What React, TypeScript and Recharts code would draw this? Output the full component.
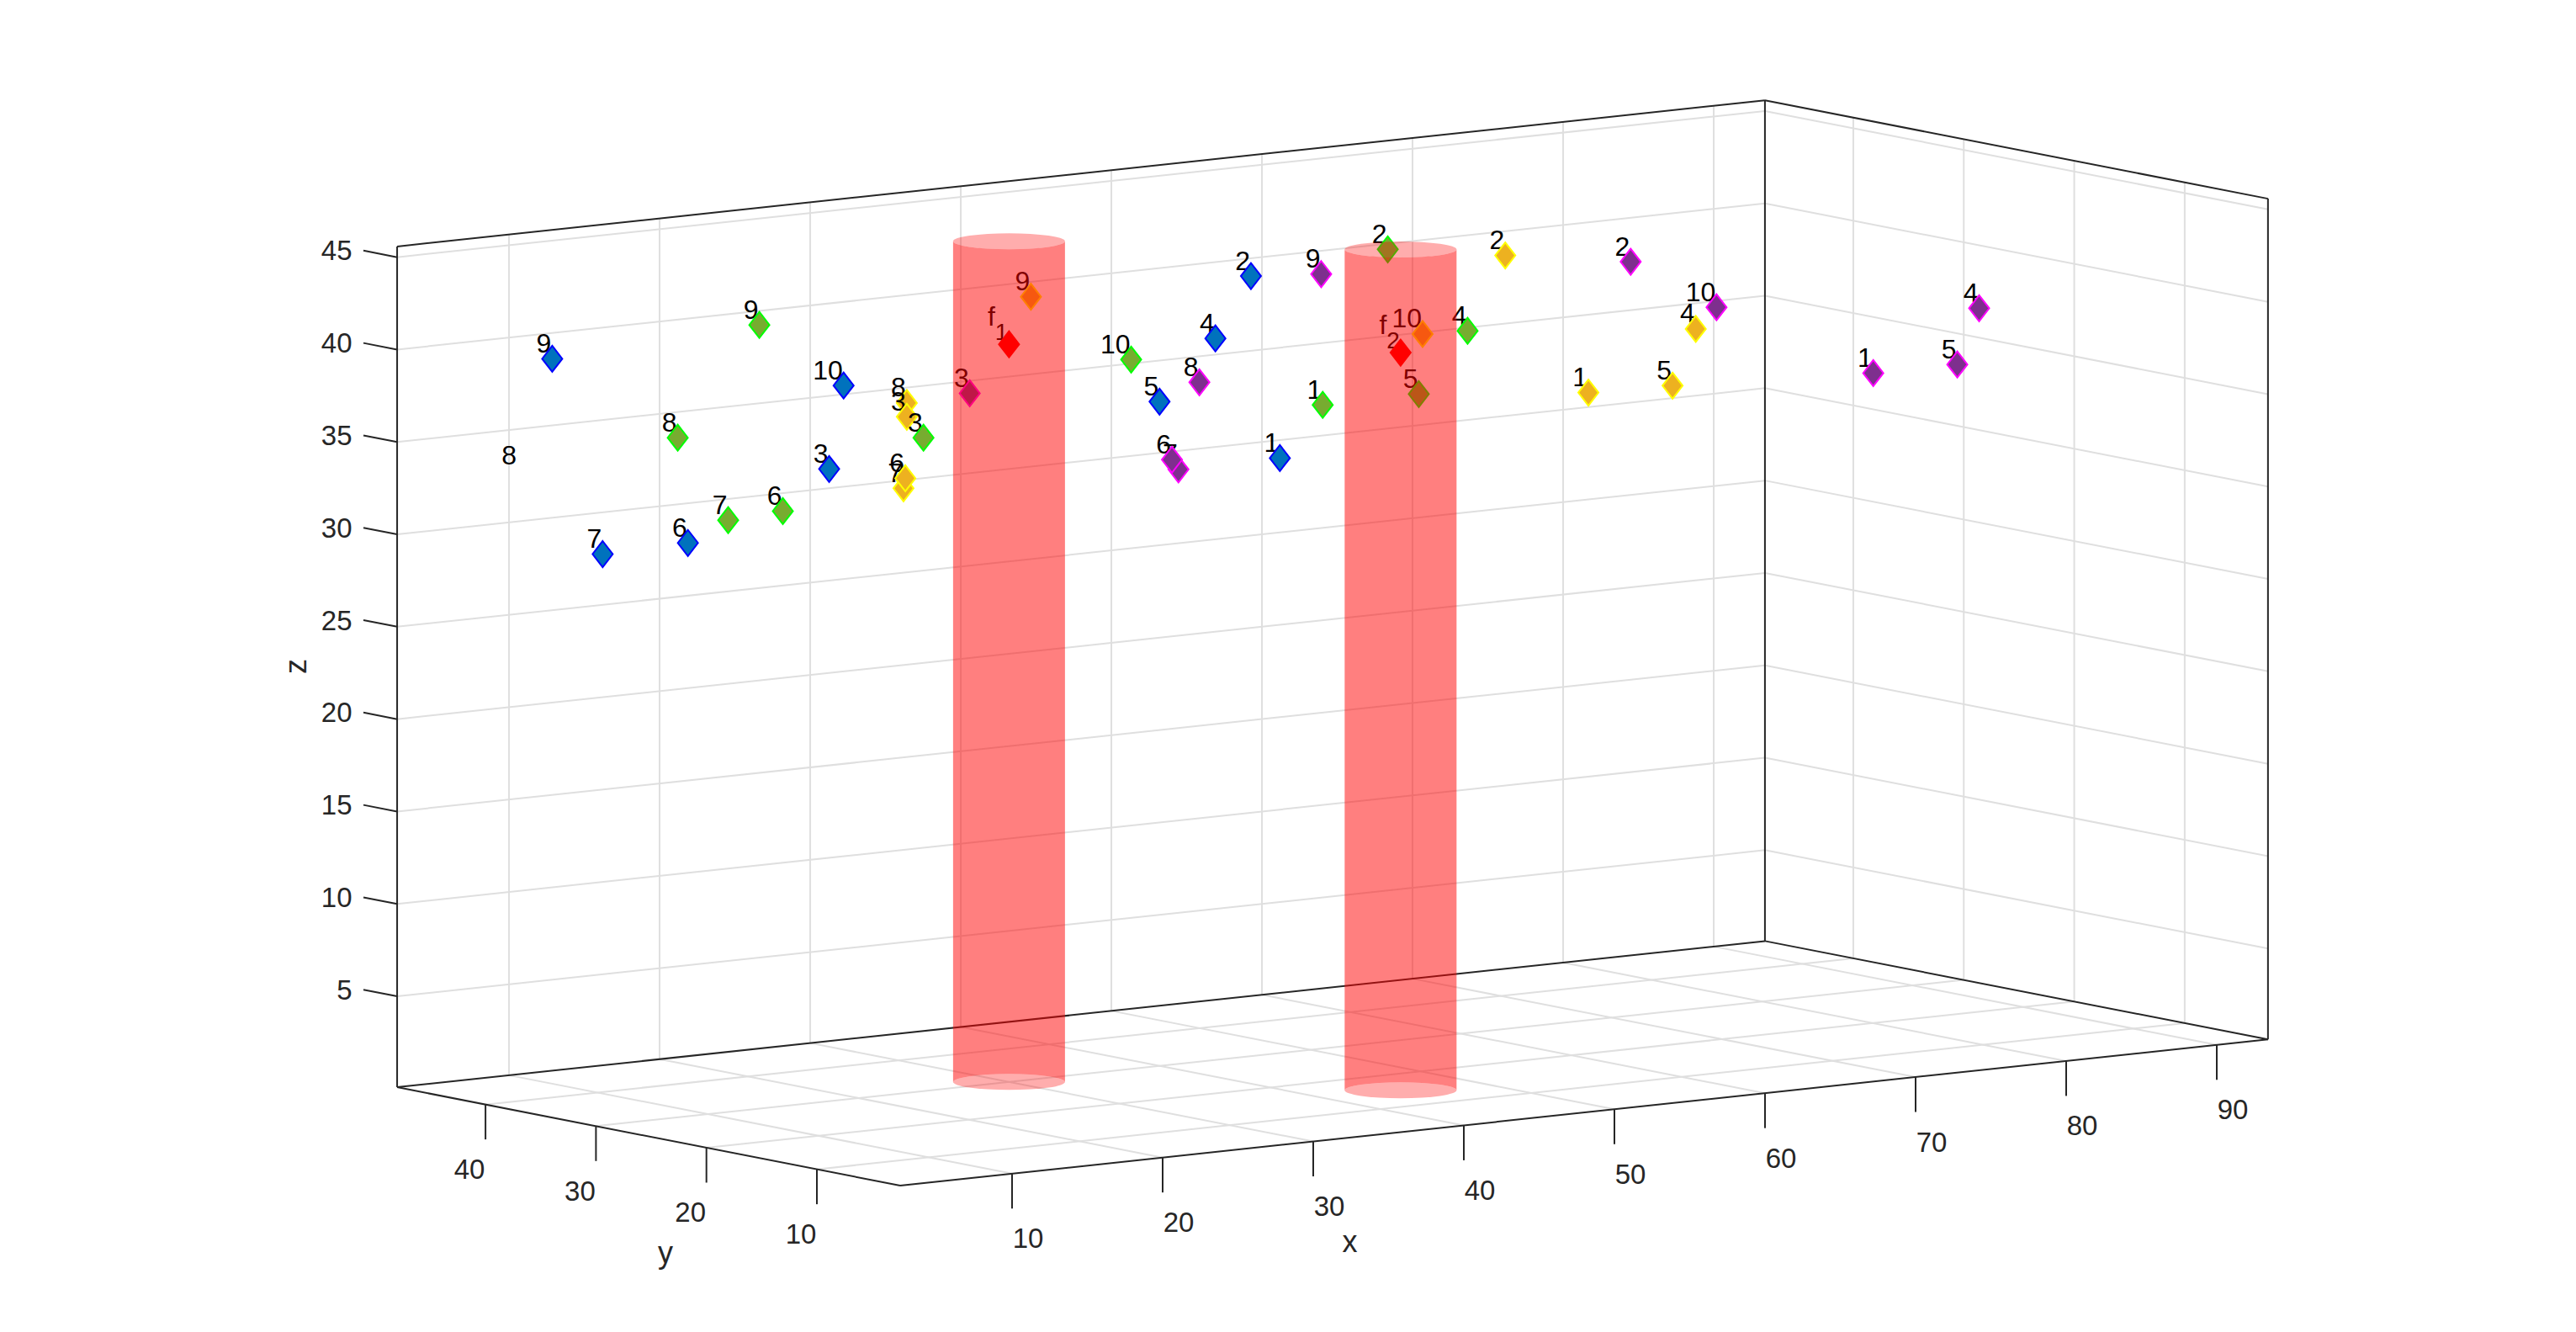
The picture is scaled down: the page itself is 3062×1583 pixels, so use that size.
import { ScatterChart, Scatter, XAxis, YAxis, ReferenceLine } from 'recharts'

const WIDTH = 3062
const HEIGHT = 1583
const FONT = '"Liberation Sans", Arial, sans-serif'

const xLimits = [2.57, 93.4]
const yLimits = [2.46, 48]
const zLimits = [0.08, 45.58]

const xTicks = [10, 20, 30, 40, 50, 60, 70, 80, 90]
const yTicks = [10, 20, 30, 40]
const zTicks = [5, 10, 15, 20, 25, 30, 35, 40, 45]

const pointLabels = ['1', '2', '3', '4', '5', '6', '7', '8', '9', '10']

const blueX = [55.32, 53.4, 25.39, 51.04, 47.33, 16.01, 10.35, 4.69, 7.0, 26.35]
const blueY = [40, 40, 40, 40, 40, 40, 40, 40, 40, 40]
const blueZ = [30.47, 40.49, 32.49, 37.32, 34.22, 29.3, 29.19, 34.17, 40.05, 36.92]

const greenX = [50.83, 55.15, 24.32, 60.45, 57.21, 14.98, 11.35, 8.0, 13.42, 38.11]
const greenY = [30, 30, 30, 30, 30, 30, 30, 30, 30, 30]
const greenZ = [34.91, 42.95, 35.44, 38.08, 34.94, 32.28, 32.11, 36.86, 42.49, 38.47]

const yellowX = [57.47, 51.95, 12.21, 64.6, 63.06, 12.11, 11.99, 12.21, 20.45, 46.46]
const yellowY = [15, 15, 15, 15, 15, 15, 15, 15, 15, 15]
const yellowZ = [36.75, 44.65, 39.38, 39.57, 36.64, 36.06, 35.53, 40.13, 45.16, 40.88]

const purpleX = [72.72, 56.61, 12.72, 79.75, 78.3, 26.15, 26.58, 27.97, 36.06, 62.31]
const purpleY = [10, 10, 10, 10, 10, 10, 10, 10, 10, 10]
const purpleZ = [37.06, 44.49, 41.19, 39.96, 37.04, 36.43, 35.87, 40.46, 45.61, 41.53]

const focusX = [30, 45]
const focusY = [30, 15]
const focusZ = [40, 40]

// blue point 8 only has its label in the picture
const labelOnly = ['8']

const xLabels = xTicks.map(String)
const yLabels = yTicks.map(String)
const zLabels = zTicks.map(String)

// orthographic view read from the box corners
const project = (x: number, y: number, z: number) => {
  const u = x - xLimits[0]
  const v = y - yLimits[0]
  const w = z - zLimits[0]
  return {
    sx: 1070 + u * 17.9 - v * 13.13,
    sy: 1409 - u * 1.9125 - v * 2.567 - w * 21.96,
  }
}

// the figure paints point 10 first and point 1 last in every series
const toPoints = (xs: number[], ys: number[], zs: number[], labels: string[]) =>
  xs.map((x, i) => ({ ...project(x, ys[i], zs[i]), label: labels[i] })).reverse()

const bluePoints = toPoints(blueX, blueY, blueZ, pointLabels)
const greenPoints = toPoints(greenX, greenY, greenZ, pointLabels)
const yellowPoints = toPoints(yellowX, yellowY, yellowZ, pointLabels)
const purplePoints = toPoints(purpleX, purpleY, purpleZ, pointLabels)
const focusPoints = toPoints(focusX, focusY, focusZ, ['1', '2'])

const [x0, x1] = xLimits
const [y0, y1] = yLimits
const [z0, z1] = zLimits

type P3 = [number, number, number]
const seg = (a: P3, b: P3) => {
  const pa = project(...a)
  const pb = project(...b)
  return [
    { x: pa.sx, y: pa.sy },
    { x: pb.sx, y: pb.sy },
  ]
}

const gridSegments = [
  ...xTicks.flatMap((t) => [seg([t, y0, z0], [t, y1, z0]), seg([t, y1, z0], [t, y1, z1])]),
  ...yTicks.flatMap((t) => [seg([x0, t, z0], [x1, t, z0]), seg([x1, t, z0], [x1, t, z1])]),
  ...zTicks.flatMap((t) => [seg([x0, y1, t], [x1, y1, t]), seg([x1, y1, t], [x1, y0, t])]),
]

const boxSegments = [
  seg([x0, y0, z0], [x1, y0, z0]),
  seg([x0, y0, z0], [x0, y1, z0]),
  seg([x0, y1, z0], [x1, y1, z0]),
  seg([x1, y0, z0], [x1, y1, z0]),
  seg([x0, y1, z0], [x0, y1, z1]),
  seg([x1, y1, z0], [x1, y1, z1]),
  seg([x1, y0, z0], [x1, y0, z1]),
  seg([x0, y1, z1], [x1, y1, z1]),
  seg([x1, y1, z1], [x1, y0, z1]),
]

const tickSegments = [
  ...xTicks.map((t) => seg([t, y0, z0], [t, y0, z0 - 1.89])),
  ...yTicks.map((t) => seg([x0, t, z0], [x0, t, z0 - 1.89])),
  ...zTicks.map((t) => seg([x0, y1, t], [x0, y1 + 3.05, t])),
]

const xTickLabels = xTicks.map((t, i) => {
  const p = project(t, y0, z0)
  return { sx: p.sx + 19, sy: p.sy + 77, label: xLabels[i] }
})
const yTickLabels = yTicks.map((t, i) => {
  const p = project(x0, t, z0)
  return { sx: p.sx - 19, sy: p.sy + 77, label: yLabels[i] }
})
const zTickLabels = zTicks.map((t, i) => {
  const p = project(x0, y1 + 3.05, t)
  return { sx: p.sx - 13.5, sy: p.sy, label: zLabels[i] }
})

const RX = 66.5
const RY = 9.5

const cylinderBodies = focusX.map((x, i) => {
  const top = project(x, focusY[i], z1)
  const bottom = project(x, focusY[i], z0)
  return { sx: top.sx, sy: top.sy, h: bottom.sy - top.sy }
})
const cylinderCaps = focusX.flatMap((x, i) => [
  project(x, focusY[i], z0),
  project(x, focusY[i], z1),
])

const labelledDiamond = (fill: string, stroke: string, hideMarkers: string[] = []) => (props: any) => {
  const { cx, cy } = props
  const label = props.payload.label
  return (
    <g>
      <text x={cx - 1} y={cy - 7.5} textAnchor="end" fontFamily={FONT} fontSize={32} fill="#000000">
        {label}
      </text>
      {!hideMarkers.includes(label) && (
        <polygon
          points={`${cx},${cy - 15.5} ${cx + 12},${cy} ${cx},${cy + 15.5} ${cx - 12},${cy}`}
          fill={fill}
          stroke={stroke}
          strokeWidth={2}
        />
      )}
    </g>
  )
}

const focusMark = (props: any) => {
  const { cx, cy } = props
  return (
    <g>
      <text x={cx - 1} y={cy - 22} textAnchor="end" fontFamily={FONT} fontSize={32} fill="#000000">
        <tspan>f</tspan>
        <tspan dy={17} fontSize={28}>
          {props.payload.label}
        </tspan>
      </text>
      <polygon
        points={`${cx},${cy - 15.5} ${cx + 12},${cy} ${cx},${cy + 15.5} ${cx - 12},${cy}`}
        fill="#ff0000"
        stroke="#ff0000"
        strokeWidth={2}
      />
    </g>
  )
}

const centeredText = (anchor: string, size: number) => (props: any) => (
  <text
    x={props.cx}
    y={props.cy}
    textAnchor={anchor}
    dominantBaseline="central"
    fontFamily={FONT}
    fontSize={size}
    fill="#262626"
    transform={props.payload.rotate ? `rotate(-90 ${props.cx} ${props.cy})` : undefined}
  >
    {props.payload.label}
  </text>
)

const cylinderBody = (props: any) => {
  const { cx, cy } = props
  const h = props.payload.h
  return (
    <path
      d={`M${cx - RX},${cy} A${RX},${RY} 0 0 0 ${cx + RX},${cy} L${cx + RX},${cy + h} A${RX},${RY} 0 0 0 ${cx - RX},${cy + h} Z`}
      fill="#ff0000"
      fillOpacity={0.5}
    />
  )
}

const cylinderCap = (props: any) => (
  <ellipse cx={props.cx} cy={props.cy} rx={RX} ry={RY} fill="#ff0000" fillOpacity={0.32} />
)

const axisTitles = [
  { sx: 1604.5, sy: 1475, label: 'x' },
  { sx: 791, sy: 1488, label: 'y' },
  { sx: 351, sy: 792, label: 'z', rotate: true },
]

export default function App() {
  return (
    <div style={{ position: 'absolute', left: 0, top: 0, width: WIDTH, height: HEIGHT, background: '#ffffff' }}>
      <ScatterChart width={WIDTH} height={HEIGHT} margin={{ top: 0, right: 0, bottom: 0, left: 0 }}>
        <XAxis dataKey="sx" type="number" domain={[0, WIDTH]} hide />
        <YAxis dataKey="sy" type="number" domain={[0, HEIGHT]} reversed hide />

        {gridSegments.map((s, i) => (
          <ReferenceLine key={`grid-${i}`} segment={s} stroke="#dfdfdf" strokeWidth={2} ifOverflow="visible" />
        ))}
        {boxSegments.map((s, i) => (
          <ReferenceLine key={`box-${i}`} segment={s} stroke="#262626" strokeWidth={2} ifOverflow="visible" />
        ))}
        {tickSegments.map((s, i) => (
          <ReferenceLine key={`tick-${i}`} segment={s} stroke="#262626" strokeWidth={2} ifOverflow="visible" />
        ))}

        <Scatter data={xTickLabels} shape={centeredText('middle', 33)} isAnimationActive={false} />
        <Scatter data={yTickLabels} shape={centeredText('middle', 33)} isAnimationActive={false} />
        <Scatter data={zTickLabels} shape={centeredText('end', 33)} isAnimationActive={false} />
        <Scatter data={axisTitles} shape={centeredText('middle', 36)} isAnimationActive={false} />

        <Scatter data={yellowPoints} shape={labelledDiamond('#edb120', '#ffff00')} isAnimationActive={false} />
        <Scatter data={greenPoints} shape={labelledDiamond('#77ac30', '#00ff00')} isAnimationActive={false} />
        <Scatter data={bluePoints} shape={labelledDiamond('#0072bd', '#0000ff', labelOnly)} isAnimationActive={false} />
        <Scatter data={purplePoints} shape={labelledDiamond('#7e2f8e', '#ff00ff')} isAnimationActive={false} />
        <Scatter data={focusPoints} shape={focusMark} isAnimationActive={false} />

        <Scatter data={cylinderBodies} shape={cylinderBody} isAnimationActive={false} />
        <Scatter data={cylinderCaps} shape={cylinderCap} isAnimationActive={false} />
      </ScatterChart>
    </div>
  )
}
